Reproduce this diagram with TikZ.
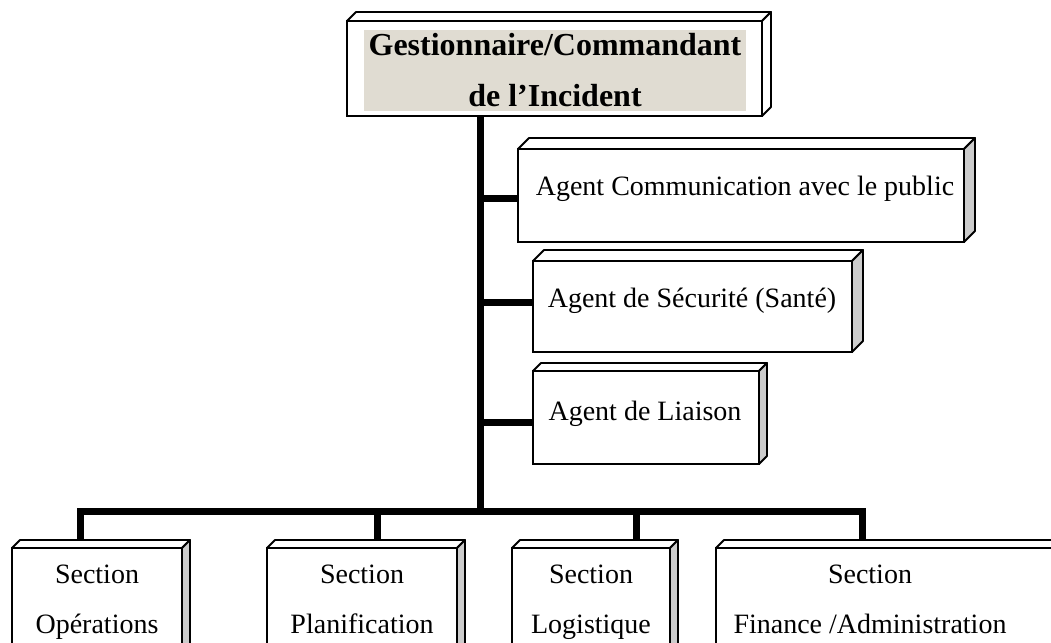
\documentclass[tikz,border=0pt]{standalone}
\usepackage{fontspec}
\setmainfont{Liberation Serif}
\definecolor{hl}{RGB}{224,220,210}
\definecolor{sidegray}{RGB}{204,204,204}
\tikzset{
  frontbox/.style={draw=black, line width=1.8pt, fill=white, inner sep=0pt, outer sep=0pt, anchor=north west},
  face/.style={draw=black, line width=1.8pt, line join=round},
  trunk/.style={draw=black, line width=7pt},
  lbl/.style={font=\fontsize{28}{50}\selectfont, inner sep=0pt, align=center}
}
\newcommand\threedbox[7]{%
  \node[frontbox, minimum width={(#4-#2)*1pt}, minimum height={(#5-#3)*1pt}] (#1) at (#2,#3) {};
  \draw[face, fill=white] (#1.north west) -- ([shift={(#6,-#6)}]#1.north west) -- ([shift={(#6,-#6)}]#1.north east) -- (#1.north east) -- cycle;
  \draw[face, fill=#7] (#1.north east) -- ([shift={(#6,-#6)}]#1.north east) -- ([shift={(#6,-#6)}]#1.south east) -- (#1.south east) -- cycle;
}
\begin{document}
\begin{tikzpicture}[x=1pt, y=-1pt]
\useasboundingbox (0,0) rectangle (1051,642);
\clip (0,0) rectangle (1051,642);
% connector coordinates
\coordinate (top) at (480,110);
\coordinate (bus) at (480,511);
\coordinate (jA) at (480,198);
\coordinate (jB) at (480,302);
\coordinate (jC) at (480,422);
\coordinate (b1) at (80,511);
\coordinate (b2) at (377,511);
\coordinate (b3) at (636,511);
\coordinate (b4) at (862,511);
% connectors (drawn first, boxes cover their ends)
\draw[trunk] (top) -- (bus);
\draw[trunk, line cap=rect] (b1) -- (b4);
\draw[trunk] (jA) -- (525,198);
\draw[trunk] (jB) -- (540,302);
\draw[trunk] (jC) -- (540,422);
\draw[trunk] (b1) -- (80,552);
\draw[trunk] (b2) -- (377,552);
\draw[trunk] (b3) -- (636,552);
\draw[trunk] (b4) -- (862,552);
% boxes
\threedbox{main}{347}{21}{762}{116}{9}{white}
\threedbox{comm}{518}{149}{964}{242}{11}{sidegray}
\threedbox{secu}{533}{261}{852}{352}{11}{sidegray}
\threedbox{liai}{533}{371}{759}{464}{8}{sidegray}
\threedbox{ops}{12}{548}{182}{700}{8}{sidegray}
\threedbox{plan}{267}{548}{457}{700}{8}{sidegray}
\threedbox{logi}{512}{548}{670}{700}{8}{sidegray}
\threedbox{fina}{716}{548}{1100}{700}{8}{sidegray}
% texts
\node[fill=hl, minimum width=382pt, minimum height=81pt, inner sep=0pt, align=center,
      font=\bfseries\fontsize{32}{51}\selectfont] (title) at (555,70.5) {Gestionnaire/Commandant\\de l’Incident};
\node[lbl, anchor=base] (tA) at (745,195) {Agent Communication avec le public};
\node[lbl, anchor=base] (tB) at (692,307) {Agent de Sécurité (Santé)};
\node[lbl, anchor=base] (tC) at (645,420) {Agent de Liaison};
\node[lbl, anchor=base] (t1a) at (97,583) {Section};
\node[lbl, anchor=base] (t1b) at (97,633) {Opérations};
\node[lbl, anchor=base] (t2a) at (362,583) {Section};
\node[lbl, anchor=base] (t2b) at (362,633) {Planification};
\node[lbl, anchor=base] (t3a) at (591,583) {Section};
\node[lbl, anchor=base] (t3b) at (591,633) {Logistique};
\node[lbl, anchor=base] (t4a) at (870,583) {Section};
\node[lbl, anchor=base] (t4b) at (870,633) {Finance /Administration};
\end{tikzpicture}
\end{document}
